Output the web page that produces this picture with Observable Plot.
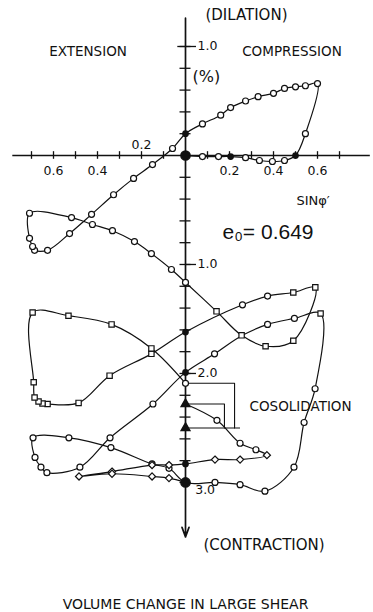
<!DOCTYPE html>
<html>
<head>
<meta charset="utf-8">
<script src="https://cdn.jsdelivr.net/npm/d3@7"></script>
<script src="https://cdn.jsdelivr.net/npm/@observablehq/plot@0.6"></script>
<style>
  html, body { margin: 0; padding: 0; background: #fff; }
  g[aria-label="ext"] text { letter-spacing: 1.2px; }
  g[aria-label="comp"] text { letter-spacing: 0.3px; }
  g[aria-label="dil"] text { letter-spacing: 1.1px; }
  g[aria-label="contr"] text { letter-spacing: 0.85px; }
  g[aria-label="consol"] text { letter-spacing: 0.25px; }
  g[aria-label="pct"] text { letter-spacing: 1.5px; }
  g[aria-label="sin"] text { letter-spacing: 0.4px; }
  g[aria-label="caption"] text { letter-spacing: 0.6px; }
</style>
</head>
<body>
<div id="chart"></div>
<script>
// ---- Cycle 1 (open circles): x = sin(phi') (negative = extension), v = volume change % (positive = contraction)
const c1X = [0, 0.077, 0.15, 0.205, 0.273, 0.336, 0.395, 0.45, 0.50, 0.545, 0.60, 0.545, 0.50, 0.45, 0.40, 0.33, 0.273, 0.205, 0.16, 0.077, 0, -0.059, -0.15, -0.236, -0.327, -0.427, -0.527, -0.627, -0.686, -0.695, -0.709, -0.709, -0.518, -0.423, -0.332, -0.232, -0.155, -0.064, 0];
const c1V = [0, 0.01, 0.01, 0.01, 0.02, 0.046, 0.055, 0.046, 0.0, -0.20, -0.66, -0.64, -0.63, -0.615, -0.57, -0.54, -0.50, -0.44, -0.37, -0.29, -0.20, -0.064, 0.083, 0.21, 0.36, 0.54, 0.716, 0.87, 0.87, 0.835, 0.76, 0.53, 0.57, 0.633, 0.69, 0.79, 0.90, 1.046, 1.165];
const c1M = "Boofoooofooooooooooofoooooooooooooooooo".split("");

// ---- Cycle 2 (squares)
const c2X = [0, 0.141, 0.255, 0.364, 0.49, 0.59, 0.49, 0.373, 0.259, 0, -0.155, -0.345, -0.486, -0.627, -0.65, -0.668, -0.686, -0.69, -0.695, -0.532, -0.336, -0.155, 0];
const c2V = [1.165, 1.43, 1.65, 1.75, 1.70, 1.21, 1.257, 1.29, 1.37, 1.62, 1.82, 2.02, 2.27, 2.28, 2.275, 2.257, 2.22, 2.08, 1.44, 1.47, 1.55, 1.77, 2.09];
const c2M = "-ssssssoofsssssssssssso".split("");

// ---- Cycle 3 (open circles, closed loop)
const c3X = [0, 0.132, 0.259, 0.373, 0.495, 0.614, 0.589, 0.539, 0.493, 0.361, 0.248, 0.134, 0, -0.075, -0.152, -0.339, -0.53, -0.693, -0.684, -0.657, -0.63, -0.48, -0.343, -0.148];
const c3V = [1.99, 1.82, 1.65, 1.55, 1.495, 1.45, 2.14, 2.45, 2.86, 3.08, 3.02, 3.0, 3.0, 2.87, 2.83, 2.68, 2.59, 2.59, 2.77, 2.86, 2.91, 2.86, 2.59, 2.28];
const c3M = "fo-oosooooooBooooooooooo".split("");

// ---- Cycle 4 (diamonds)
const c4X = [0, 0.143, 0.248, 0.32, 0.37, 0.248, 0.134, 0, -0.075, -0.152, -0.334, -0.484, -0.334, -0.152, -0.075, 0];
const c4V = [2.28, 2.43, 2.64, 2.70, 2.75, 2.79, 2.79, 2.83, 2.84, 2.84, 2.90, 2.945, 2.92, 2.945, 2.96, 3.0];
const c4M = "tooodddfddddddd-".split("");

// ---- Consolidation steps
const consolV = [2.09, 2.28, 2.5];
const consolBracketX = [0.223, 0.177];

// ---- Axis ticks and labels
const xTicks = [-0.7, -0.6, -0.5, -0.4, -0.3, -0.2, -0.1, 0.1, 0.2, 0.3, 0.4, 0.5, 0.6, 0.7];
const xTickLabelAt = [-0.6, -0.4, -0.2, 0.2, 0.4, 0.6];
const xTickLabels = ["0.6", "0.4", "0.2", "0.2", "0.4", "0.6"];
const yTicks = [-1.0, -0.8, -0.6, -0.4, -0.2, 0.2, 0.4, 0.6, 0.8, 1.0, 1.2, 1.4, 1.6, 1.8, 2.0, 2.2, 2.4, 2.6, 2.8, 3.0];
const yTickLabelAt = [-1.0, 1.0, 2.0];
const yTickLabels = ["1.0", "1.0", "2.0"];

const mk = (X, V, M) => X.map((x, i) => ({x, v: V[i], m: M[i]}));
const c1 = mk(c1X, c1V, c1M), c2 = mk(c2X, c2V, c2M), c3 = mk(c3X, c3V, c3M), c4 = mk(c4X, c4V, c4M);
const all = [...c1, ...c2, ...c3, ...c4, {x: 0, v: consolV[2], m: "t"}];
const ink = "#111";
const font = "DejaVu Sans";

const chart = Plot.plot({
  width: 373,
  height: 612,
  margin: 0,
  style: {background: "#fff", fontFamily: font, color: ink},
  x: {domain: [-0.8409, 0.8545], range: [0, 373], axis: null},
  y: {domain: [-1.422, 4.193], range: [0, 612], axis: null},
  marks: [
    // axes
    Plot.ruleY([0], {x1: -0.785, x2: 0.84, stroke: ink, strokeWidth: 1.7}),
    Plot.arrow([0], {x1: 0, y1: -1.26, x2: 0, y2: 3.5, stroke: ink, strokeWidth: 1.7, headLength: 9, headAngle: 40}),
    Plot.ruleX(xTicks, {x: d => d, y1: -0.035, y2: 0.035, stroke: ink, strokeWidth: 1.3}),
    Plot.ruleY(yTicks, {y: d => d, x1: -0.025, x2: 0.025, stroke: ink, strokeWidth: 1.3}),
    Plot.ruleY(yTickLabelAt, {y: d => d, x1: d => d < 0 ? -0.035 : 0, x2: 0.05, stroke: ink, strokeWidth: 1.3}),
    // consolidation brackets
    Plot.line([{x: 0, v: consolV[0]}, {x: consolBracketX[0], v: consolV[0]}, {x: consolBracketX[0], v: consolV[2]}], {x: "x", y: "v", stroke: ink, strokeWidth: 1.1}),
    Plot.line([{x: 0, v: consolV[1]}, {x: consolBracketX[1], v: consolV[1]}, {x: consolBracketX[1], v: consolV[2]}], {x: "x", y: "v", stroke: ink, strokeWidth: 1.1}),
    Plot.ruleY([consolV[2]], {y: d => d, x1: 0.014, x2: 0.25, stroke: ink, strokeWidth: 1.1}),
    // curves
    Plot.line(c1, {x: "x", y: "v", curve: "catmull-rom", stroke: ink, strokeWidth: 1.2}),
    Plot.line(c2, {x: "x", y: "v", curve: "catmull-rom", stroke: ink, strokeWidth: 1.2}),
    Plot.line(c3, {x: "x", y: "v", curve: "catmull-rom-closed", stroke: ink, strokeWidth: 1.2}),
    Plot.line(c4, {x: "x", y: "v", curve: "catmull-rom", stroke: ink, strokeWidth: 1.2}),
    // markers
    Plot.dot(all.filter(d => d.m === "o"), {x: "x", y: "v", r: 3, fill: "#fff", stroke: ink, strokeWidth: 1.2}),
    Plot.dot(all.filter(d => d.m === "s"), {x: "x", y: "v", r: 3, symbol: "square", fill: "#fff", stroke: ink, strokeWidth: 1.2}),
    Plot.dot(all.filter(d => d.m === "d"), {x: "x", y: "v", r: 3.2, symbol: "diamond2", fill: "#fff", stroke: ink, strokeWidth: 1.2}),
    Plot.dot(all.filter(d => d.m === "f"), {x: "x", y: "v", r: 2.6, fill: ink, stroke: ink}),
    Plot.dot(all.filter(d => d.m === "t"), {x: "x", y: "v", r: 3.2, symbol: "triangle", fill: ink, stroke: ink}),
    Plot.dot(all.filter(d => d.m === "B"), {x: "x", y: "v", r: 4.6, fill: ink, stroke: ink}),
    // tick labels
    Plot.text(xTickLabels, {x: (d, i) => xTickLabelAt[i], y: (d, i) => xTickLabelAt[i] === -0.2 ? -0.092 : 0.145, text: d => d, fontSize: 12.5, fill: ink}),
    Plot.text(yTickLabels, {x: 0.055, y: (d, i) => yTickLabelAt[i] + (i === 0 ? -0.005 : 0), text: d => d, fontSize: 12.5, textAnchor: "start", fill: ink}),
    Plot.text(["3.0"], {x: 0.044, y: 3.07, text: d => d, fontSize: 12.5, textAnchor: "start", fill: ink}),
    // annotations
    Plot.text(["(DILATION)"], {x: 0.277, y: -1.284, text: d => d, fontSize: 15, fill: ink, ariaLabel: "dil"}),
    Plot.text(["EXTENSION"], {x: -0.443, y: -0.95, text: d => d, fontSize: 13.5, fill: ink, ariaLabel: "ext"}),
    Plot.text(["COMPRESSION"], {x: 0.484, y: -0.95, text: d => d, fontSize: 13.5, fill: ink, ariaLabel: "comp"}),
    Plot.text(["(%)"], {x: 0.032, y: -0.725, text: d => d, fontSize: 16, textAnchor: "start", fill: ink, ariaLabel: "pct"}),
    Plot.text(["SINφ′"], {x: 0.58, y: 0.42, text: d => d, fontSize: 13, fill: ink, ariaLabel: "sin"}),
    Plot.text(["e₀= 0.649"], {x: 0.168, y: 0.70, text: d => d, fontSize: 21, textAnchor: "start", fill: ink, fontFamily: "Liberation Sans"}),
    Plot.text(["COSOLIDATION"], {x: 0.523, y: 2.30, text: d => d, fontSize: 13.5, fill: ink, ariaLabel: "consol"}),
    Plot.text(["(CONTRACTION)"], {x: 0.357, y: 3.58, text: d => d, fontSize: 15, fill: ink, ariaLabel: "contr"}),
    Plot.text(["VOLUME CHANGE IN LARGE SHEAR"], {x: 0, y: 4.12, text: d => d, fontSize: 14, fill: ink, ariaLabel: "caption"})
  ]
});
document.getElementById("chart").appendChild(chart);
</script>
</body>
</html>
